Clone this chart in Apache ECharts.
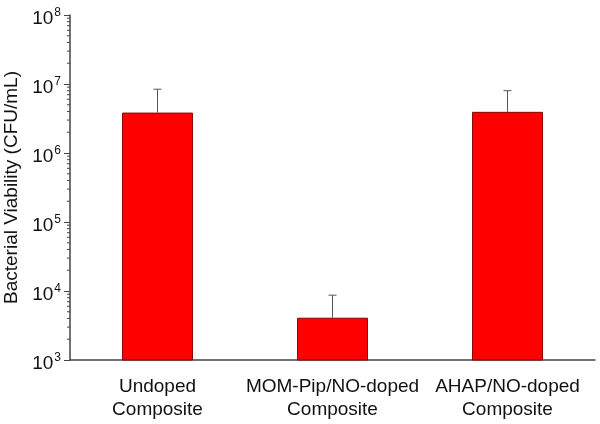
<!DOCTYPE html>
<html><head><meta charset="utf-8">
<script src="https://cdn.jsdelivr.net/npm/echarts@6/dist/echarts.min.js"></script>
<style>html,body{margin:0;padding:0;background:#fff}#c{width:600px;height:424px}</style>
</head><body><div id="c"></div>
<script>
var categories = ['Undoped\nComposite', 'MOM-Pip/NO-doped\nComposite', 'AHAP/NO-doped\nComposite'];
var viability = [3.85e6, 4.1e3, 3.95e6];
var errorTop = [8.4e6, 8.7e3, 8.0e6];
var yMin = 1e3, yMax = 1e8;
var minorTickValues = [];
for (var d = 3; d < 8; d++) { for (var k = 2; k <= 9; k++) { minorTickValues.push(k * Math.pow(10, d)); } }

var chart = echarts.init(document.getElementById('c'));
var font = 'Liberation Sans, Arial, sans-serif';
chart.setOption({
  animation: false,
  backgroundColor: '#fff',
  grid: { left: 70, right: 5, top: 15, bottom: 64, containLabel: false, outerBoundsMode: 'none' },
  xAxis: {
    type: 'category', data: categories,
    axisLine: { lineStyle: { color: '#444', width: 1.5 } },
    axisTick: { alignWithLabel: true, length: 5, lineStyle: { color: '#444' } },
    axisLabel: { interval: 0, fontFamily: font, fontSize: 19, color: '#111', lineHeight: 23, margin: 15 }
  },
  yAxis: {
    type: 'log', logBase: 10, min: yMin, max: yMax,
    name: 'Bacterial Viability (CFU/mL)', nameLocation: 'middle', nameGap: 49,
    nameTextStyle: { fontFamily: font, fontSize: 19, color: '#111' },
    axisLine: { show: true, lineStyle: { color: '#444', width: 1.5 } },
    axisTick: { show: true, length: 6, lineStyle: { color: '#444' } },
    splitLine: { show: false },
    axisLabel: {
      margin: 9,
      padding: [7, 0, 0, 0],
      formatter: function (v) { var e = Math.round(Math.log10(v)); return '{b|10}{s|' + e + '}'; },
      rich: {
        b: { fontFamily: font, fontSize: 19, color: '#111' },
        s: { fontFamily: font, fontSize: 12, color: '#111', padding: [0, 0, 11, 1] }
      }
    }
  },
  series: [
    {
      type: 'bar', data: viability, barWidth: '40.5%',
      itemStyle: { color: '#ff0000', borderColor: '#8a0000', borderWidth: 1 }
    },
    {
      type: 'custom', clip: false, z: 1,
      data: viability.map(function (v, i) { return [i, v, errorTop[i]]; }),
      renderItem: function (params, api) {
        var p0 = api.coord([api.value(0), api.value(1)]);
        var p1 = api.coord([api.value(0), api.value(2)]);
        var st = { stroke: '#555', lineWidth: 1 };
        return { type: 'group', children: [
          { type: 'line', shape: { x1: p0[0], y1: p0[1], x2: p1[0], y2: p1[1] }, style: st },
          { type: 'line', shape: { x1: p1[0] - 4, y1: p1[1], x2: p1[0] + 4, y2: p1[1] }, style: st }
        ] };
      }
    },
    {
      type: 'custom', clip: false, silent: true,
      data: minorTickValues.map(function (v) { return [0, v]; }),
      renderItem: function (params, api) {
        var p = api.coord([0, api.value(1)]);
        var x = params.coordSys.x;
        return { type: 'line', shape: { x1: x - 3, y1: p[1], x2: x, y2: p[1] }, style: { stroke: '#444', lineWidth: 1 } };
      }
    }
  ]
});
</script></body></html>
